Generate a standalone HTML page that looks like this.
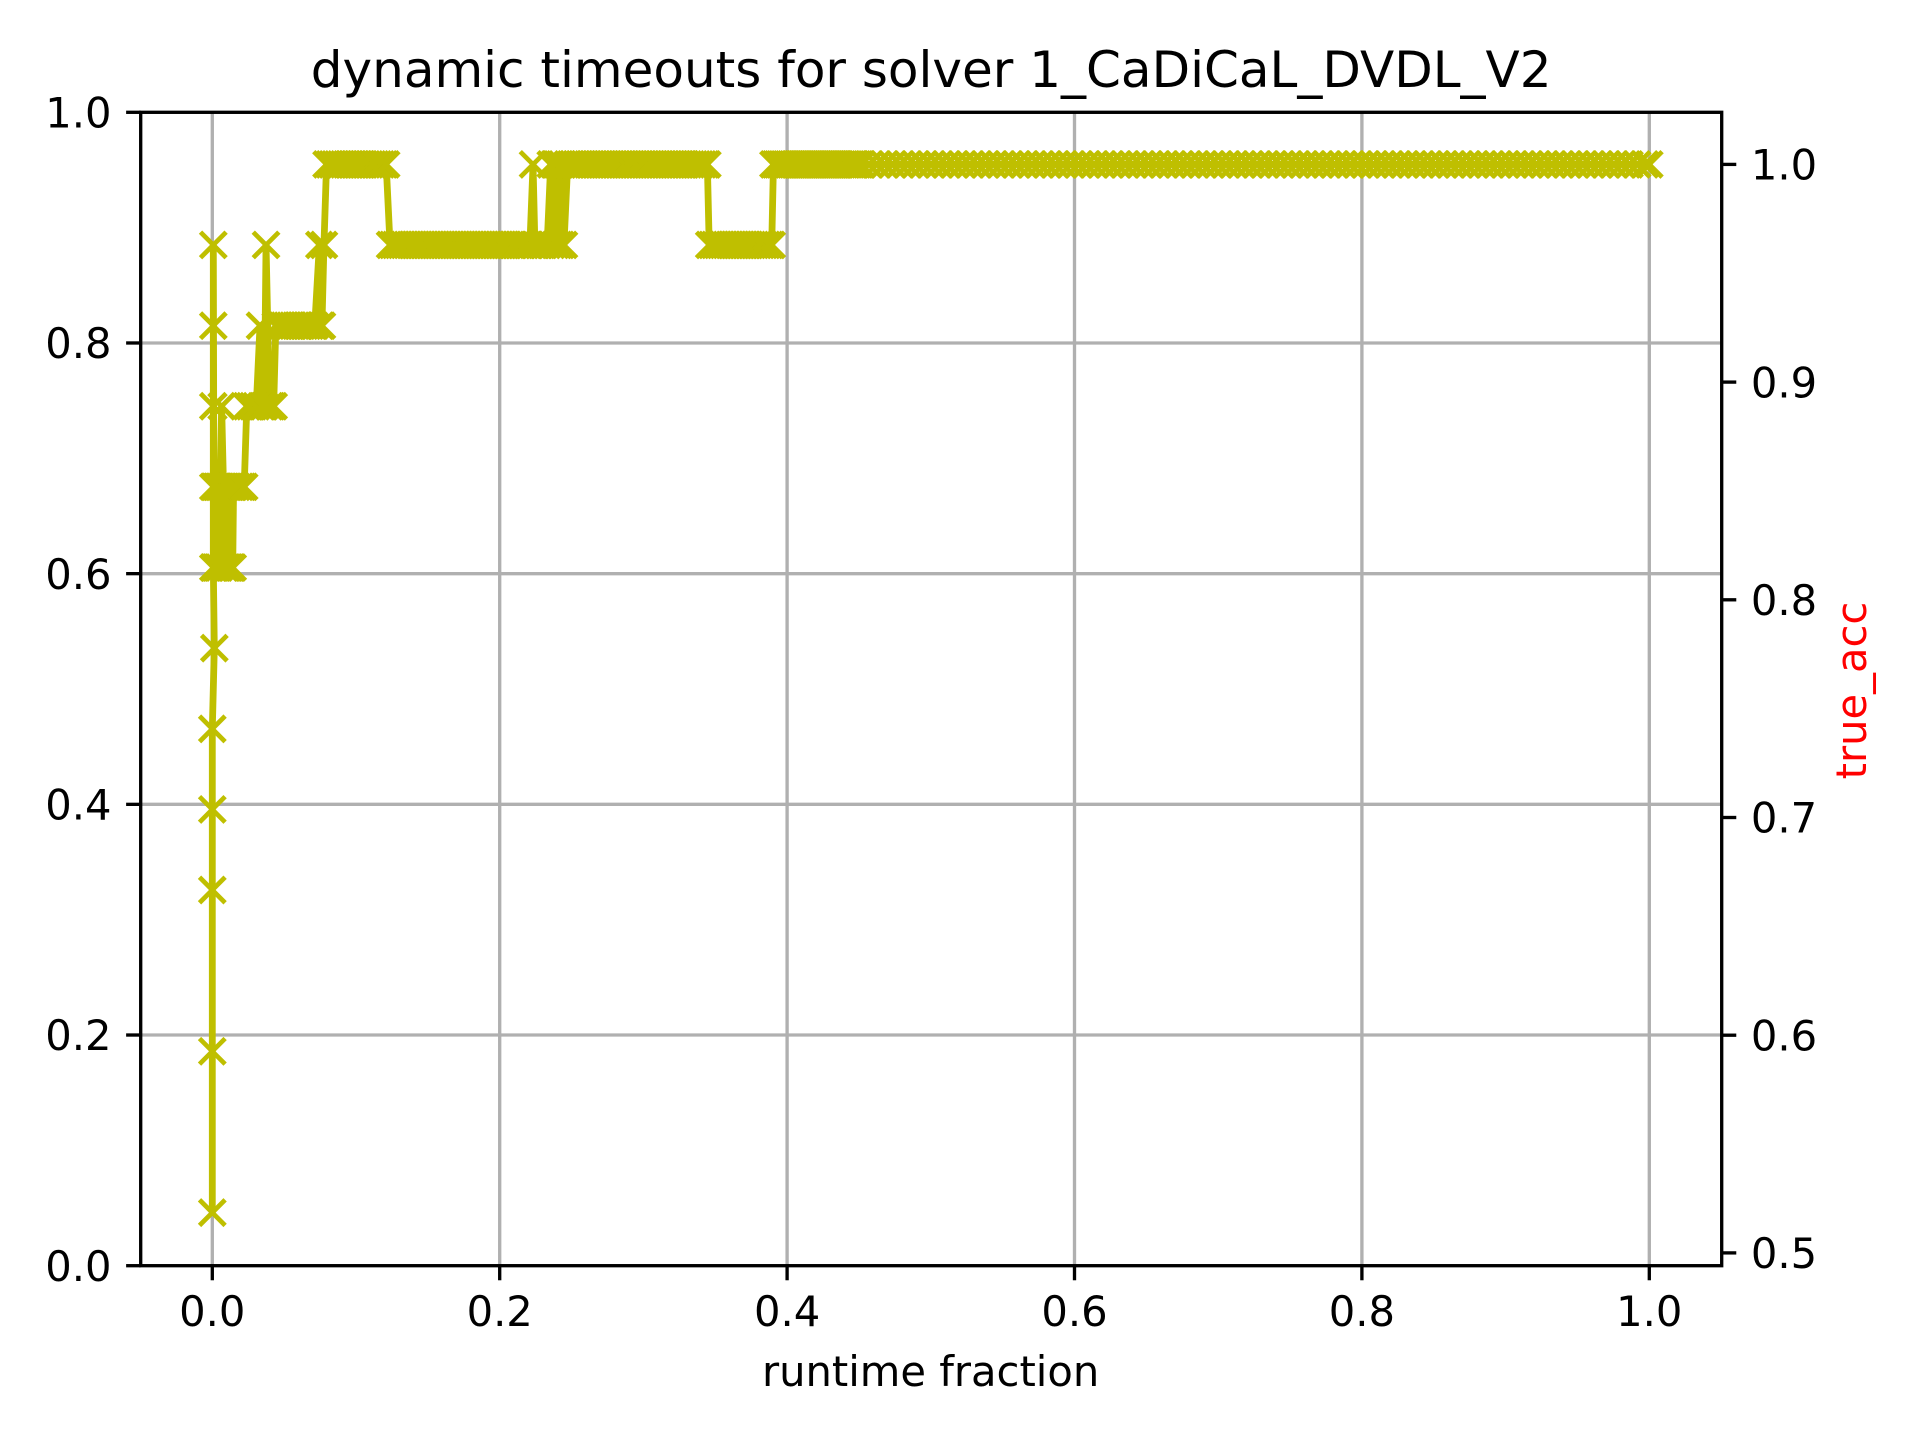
<!DOCTYPE html>
<html lang="en">
<head>
<meta charset="utf-8">
<title>dynamic timeouts for solver 1_CaDiCaL_DVDL_V2</title>
<style>
  html, body { margin: 0; padding: 0; background: #ffffff; }
  svg { display: block; }
  text { font-family: "DejaVu Sans", "Liberation Sans", sans-serif; fill: #000000; }
</style>
</head>
<body>
<svg id="chart" xmlns="http://www.w3.org/2000/svg" width="1920" height="1440" viewBox="0 0 1920 1440">
  <rect x="0" y="0" width="1920" height="1440" fill="#ffffff"/>
  <g id="grid"></g>
  <g id="series"></g>
  <g id="axes"></g>
  <text x="931.2" y="87" font-size="50" text-anchor="middle">dynamic timeouts for solver 1_CaDiCaL_DVDL_V2</text>
  <text x="930.6" y="1386" font-size="41.67" text-anchor="middle">runtime fraction</text>
  <text x="0" y="0" font-size="41.67" text-anchor="middle" transform="translate(1866 690.5) rotate(-90)" style="fill:#ff0000">true_acc</text>
</svg>
<script>
var xTicks = [0, 0.2, 0.4, 0.6, 0.8, 1.0];
var xTickLabels = ['0.0', '0.2', '0.4', '0.6', '0.8', '1.0'];
var leftTicks = [0, 0.2, 0.4, 0.6, 0.8, 1.0];
var leftTickLabels = ['0.0', '0.2', '0.4', '0.6', '0.8', '1.0'];
var rightTicks = [0.5, 0.6, 0.7, 0.8, 0.9, 1.0];
var rightTickLabels = ['0.5', '0.6', '0.7', '0.8', '0.9', '1.0'];

var runtimeFraction = [
  0,0,0,0,0,.0014,.0007,.0007,.0007,.0007,.0007,
  .0012,.0018,.0024,.0030,.0036,.0042,.0048,.0054,
  .0065,.0078,
  .0084,.0090,.0096,.0102,.0108,.0114,.0120,.0126,.0132,.0138,.0142,.0148,
  .0170,.0192,.0208,.0222,
  .0240,.0262,.0284,.0306,
  .0332,.0340,.0352,.0362,.0374,.0398,.0412,.0427,.0442,
  .0462,.0482,.0502,.0522,.0542,.0562,.0582,.0602,.0622,.0642,
  .0662,.0682,.0702,.0713,
  .0745,.0752,.0763,.0777,.0795,
  .0815,.0835,.0855,.0875,.0895,.0915,.0935,.0955,.0975,.0995,
  .1015,.1035,.1055,.1075,.1095,.1115,.1135,.1155,.1175,.1195,
  .1210,
  .1237,.1257,.1277,.1297,.1317,.1337,.1357,.1377,.1397,.1417,
  .1437,.1457,.1477,.1497,.1517,.1537,.1557,.1577,.1597,.1617,
  .1637,.1657,.1677,.1697,.1717,.1737,.1757,.1777,.1797,.1817,
  .1837,.1857,.1877,.1897,.1917,.1937,.1957,.1977,.1997,.2017,
  .2037,.2057,.2077,.2097,.2117,.2137,.2157,.2177,.2197,.2210,
  .2232,.2245,.2275,.2305,.2330,
  .2355,.2360,.2380,.2387,.2400,.2408,.2418,.2425,.2435,.2447,.2473,
  .2493,.2513,.2533,.2553,.2573,.2593,.2613,.2633,.2653,.2673,
  .2693,.2713,.2733,.2753,.2773,.2793,.2813,.2833,.2853,.2873,
  .2893,.2913,.2933,.2953,.2973,.2993,.3013,.3033,.3053,.3073,
  .3093,.3113,.3133,.3153,.3173,.3193,.3213,.3233,.3253,.3273,
  .3293,.3313,.3333,.3353,.3373,.3393,.3413,.3433,.3445,
  .3458,.3478,.3498,.3518,.3538,.3558,.3578,.3598,.3618,.3638,
  .3658,.3678,.3698,.3718,.3738,.3758,.3778,.3798,.3818,.3838,
  .3858,.3878,.3893,
  .3905,.3920,.3935,.3950,.3965,.3980,.3995,.4010,.4025,.4040,
  .4055,.4070,.4085,.4100,.4115,.4130,.4145,.4160,.4175,.4190,
  .4205,.4220,.4235,.4250,.4265,.4280,.4295,.4310,.4325,.4340,
  .4355,.4370,.4385,.4400,.4415,.4430,.4445,.4460,.4475,.4490,
  .4505,.4516,
  .4570,.4624,.4678,.4732,.4786,.4840,.4894,.4948,.5002,.5056,
  .5110,.5164,.5218,.5272,.5326,.5380,.5434,.5488,.5542,.5596,
  .5650,.5704,.5758,.5812,.5866,.5920,.5974,.6028,.6082,.6136,
  .6190,.6244,.6298,.6352,.6406,.6460,.6514,.6568,.6622,.6676,
  .6730,.6784,.6838,.6892,.6946,.7000,.7054,.7108,.7162,.7216,
  .7270,.7324,.7378,.7432,.7486,.7540,.7594,.7648,.7702,.7756,
  .7810,.7864,.7918,.7972,.8026,.8080,.8134,.8188,.8242,.8296,
  .8350,.8404,.8458,.8512,.8566,.8620,.8674,.8728,.8782,.8836,
  .8890,.8944,.8998,.9052,.9106,.9160,.9214,.9268,.9322,.9376,
  .9430,.9484,.9538,.9592,.9646,.9700,.9754,.9808,.9862,.9916,
  .9970,1.0000
];

var trueAcc = [
  .5185,.5926,.6667,.7037,.7407,.7778,.8148,.8519,.8889,.9259,.963,
  .8148,.8519,.8148,.8519,.8148,.8519,.8148,.8519,
  .8889,.8519,
  .8148,.8519,.8148,.8519,.8148,.8519,.8148,.8519,.8148,.8519,.8148,.8519,
  .8519,.8519,.8519,.8519,
  .8889,.8889,.8889,.8889,
  .9259,.8889,.8889,.8889,.963,.8889,.8889,.8889,.9259,
  .9259,.9259,.9259,.9259,.9259,.9259,.9259,.9259,.9259,.9259,
  .9259,.9259,.9259,.9259,
  .963,.9259,.9259,.963,1,
  1,1,1,1,1,1,1,1,1,1,
  1,1,1,1,1,1,1,1,1,1,
  1,
  .963,.963,.963,.963,.963,.963,.963,.963,.963,.963,
  .963,.963,.963,.963,.963,.963,.963,.963,.963,.963,
  .963,.963,.963,.963,.963,.963,.963,.963,.963,.963,
  .963,.963,.963,.963,.963,.963,.963,.963,.963,.963,
  .963,.963,.963,.963,.963,.963,.963,.963,.963,.963,
  1,.963,.963,.963,.963,
  1,.963,1,.963,1,.963,1,.963,1,.963,1,
  1,1,1,1,1,1,1,1,1,1,
  1,1,1,1,1,1,1,1,1,1,
  1,1,1,1,1,1,1,1,1,1,
  1,1,1,1,1,1,1,1,1,1,
  1,1,1,1,1,1,1,1,1,
  .963,.963,.963,.963,.963,.963,.963,.963,.963,.963,
  .963,.963,.963,.963,.963,.963,.963,.963,.963,.963,
  .963,.963,.963,
  1,1,1,1,1,1,1,1,1,1,
  1,1,1,1,1,1,1,1,1,1,
  1,1,1,1,1,1,1,1,1,1,
  1,1,1,1,1,1,1,1,1,1,
  1,1,
  1,1,1,1,1,1,1,1,1,1,
  1,1,1,1,1,1,1,1,1,1,
  1,1,1,1,1,1,1,1,1,1,
  1,1,1,1,1,1,1,1,1,1,
  1,1,1,1,1,1,1,1,1,1,
  1,1,1,1,1,1,1,1,1,1,
  1,1,1,1,1,1,1,1,1,1,
  1,1,1,1,1,1,1,1,1,1,
  1,1,1,1,1,1,1,1,1,1,
  1,1,1,1,1,1,1,1,1,1,
  1,1
];

var NS = 'http://www.w3.org/2000/svg';
var plotLeft = 140.7, plotRight = 1721.7, plotTop = 112.3, plotBottom = 1265.7;

function xScale(v) { return 212.3 + 1437 * v; }
function yLeft(v) { return plotBottom - (plotBottom - plotTop) * v; }
function yRight(v) { return 164.4 + (1 - v) * 2177; }

function make(tag, parent, attrs) {
  var el = document.createElementNS(NS, tag);
  for (var k in attrs) { el.setAttribute(k, attrs[k]); }
  parent.appendChild(el);
  return el;
}

var gridG = document.getElementById('grid');
var seriesG = document.getElementById('series');
var axesG = document.getElementById('axes');
var GRID = '#b0b0b0', COLOR = '#bfbf00', TICK_W = 3.33, TICK_L = 14.58, LABEL = 41.67;

xTicks.forEach(function (t, i) {
  var gl = make('line', gridG, { x1: xScale(t), x2: xScale(t), y1: plotTop, y2: plotBottom, stroke: GRID, 'stroke-width': TICK_W });
  
  
  var tk = make('line', axesG, { x1: xScale(t), x2: xScale(t), y1: plotBottom, y2: plotBottom + TICK_L, stroke: '#000', 'stroke-width': TICK_W });
  
  
  var tx = make('text', axesG, { x: xScale(t), y: 1326, 'font-size': LABEL, 'text-anchor': 'middle' });
  
  
  tx.textContent = xTickLabels[i];
});

leftTicks.forEach(function (t, i) {
  if (t > 0 && t < 1) {
    var gl = make('line', gridG, { x1: plotLeft, x2: plotRight, y1: yLeft(t), y2: yLeft(t), stroke: GRID, 'stroke-width': TICK_W });
    
    
  }
  var tk = make('line', axesG, { x1: plotLeft - TICK_L, x2: plotLeft, y1: yLeft(t), y2: yLeft(t), stroke: '#000', 'stroke-width': TICK_W });
  
  
  var tx = make('text', axesG, { x: plotLeft - 29.2, y: yLeft(t) + 15.2, 'font-size': LABEL, 'text-anchor': 'end' });
  
  
  tx.textContent = leftTickLabels[i];
});

rightTicks.forEach(function (t, i) {
  var tk = make('line', axesG, { x1: plotRight, x2: plotRight + TICK_L, y1: yRight(t), y2: yRight(t), stroke: '#000', 'stroke-width': TICK_W });
  
  
  var tx = make('text', axesG, { x: plotRight + 29.2, y: yRight(t) + 15.2, 'font-size': LABEL, 'text-anchor': 'start' });
  
  
  tx.textContent = rightTickLabels[i];
});

var pts = runtimeFraction.map(function (f, i) {
  return xScale(f).toFixed(2) + ',' + yRight(trueAcc[i]).toFixed(2);
}).join(' ');
var line = make('polyline', seriesG, { points: pts, fill: 'none', stroke: COLOR, 'stroke-width': 6.8, 'stroke-linejoin': 'round', 'stroke-linecap': 'square' });



runtimeFraction.forEach(function (f, i) {
  var cx = xScale(f), cy = yRight(trueAcc[i]), r = 12.8;
  var d = 'M' + (cx - r) + ' ' + (cy - r) + 'L' + (cx + r) + ' ' + (cy + r) + 'M' + (cx - r) + ' ' + (cy + r) + 'L' + (cx + r) + ' ' + (cy - r);
  var m = make('path', seriesG, { d: d, fill: 'none', stroke: COLOR, 'stroke-width': 4.7 });
  
  
});

var frame = make('rect', axesG, { x: plotLeft, y: plotTop, width: plotRight - plotLeft, height: plotBottom - plotTop, fill: 'none', stroke: '#000', 'stroke-width': TICK_W, 'stroke-linejoin': 'miter' });


</script>
</body>
</html>
